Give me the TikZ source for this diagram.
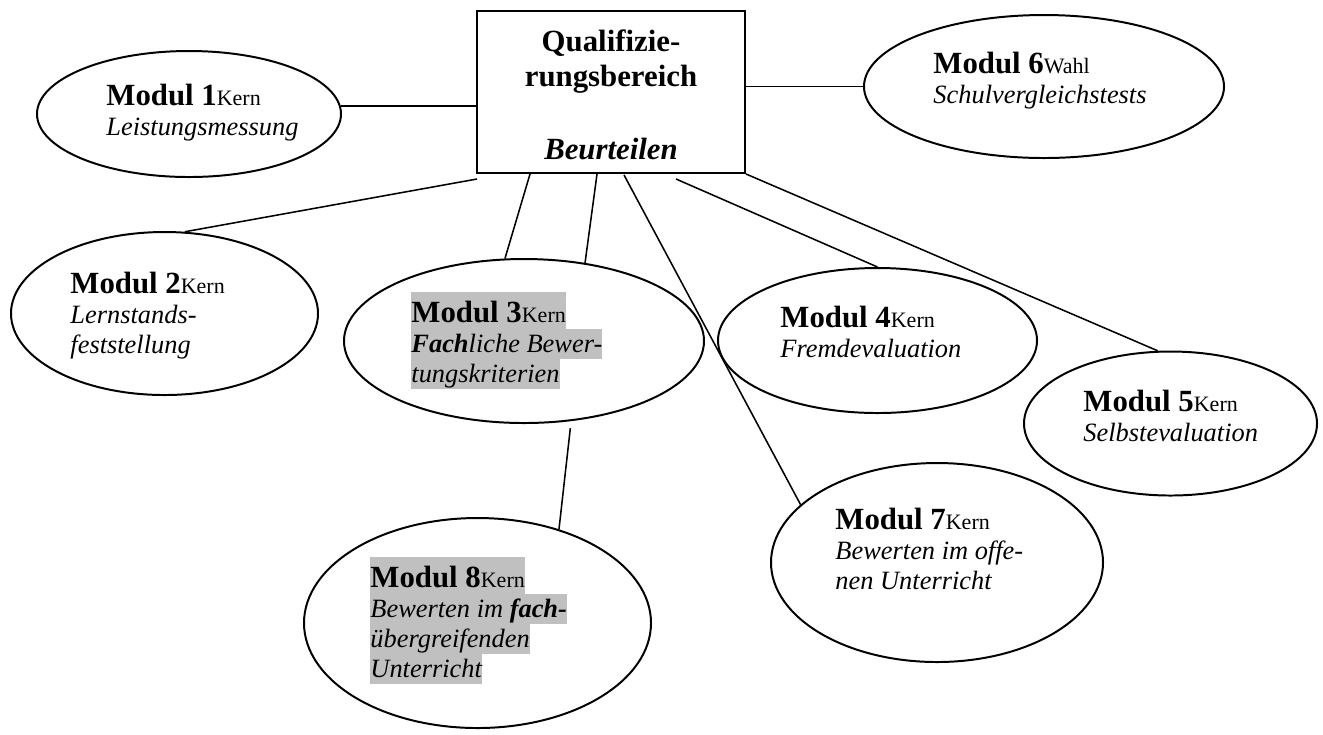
\documentclass[tikz,border=0pt]{standalone}
\usepackage{fontspec}
\setmainfont{Liberation Serif}
\usetikzlibrary{shapes.geometric,calc}
\definecolor{hlgray}{HTML}{C0C0C0}
\newcommand{\pxu}{0.4545pt}
\newcommand{\firststrut}{\rule[-3.2pt]{0pt}{16.8pt}}
\newcommand{\linestrut}{\rule[-3.2pt]{0pt}{13.6pt}}
\newcommand{\hlline}[1]{{\setlength{\fboxsep}{0pt}\colorbox{hlgray}{#1}}}
\newcommand{\modhead}[2]{{\fontsize{14}{13.6}\selectfont\bfseries\upshape Modul #1}{\fontsize{10}{12}\selectfont\upshape #2}}
\begin{document}
\begin{tikzpicture}[x=\pxu,y=-\pxu,
  ell/.style={draw, line width=0.9pt, ellipse, inner sep=0pt},
  modtext/.style={anchor=north west, inner sep=0pt, align=left, font=\fontsize{12}{13.6}\selectfont\itshape},
  conn/.style={line width=0.7pt},
  mainbox/.style={draw, line width=0.9pt, rectangle, inner sep=0pt, align=center,
    minimum width={268*\pxu}, minimum height={162*\pxu},
    font=\fontsize{14}{15.9}\selectfont\bfseries}]
\useasboundingbox (0,0) rectangle (1323,734);

% central box
\node[mainbox] (box) at (611,92) {\rule{0pt}{12.7pt}Qualifizie-\\rungsbereich\\[17.3pt]\textit{Beurteilen}};

% ellipses
\node[ell, minimum width={304*\pxu}, minimum height={126*\pxu}] (m1) at (189,114) {};
\node[ell, minimum width={307*\pxu}, minimum height={163*\pxu}] (m2) at (164.5,313.5) {};
\node[ell, minimum width={360*\pxu}, minimum height={164*\pxu}] (m3) at (524,341) {};
\node[ell, minimum width={319*\pxu}, minimum height={145*\pxu}] (m4) at (877.5,340.5) {};
\node[ell, minimum width={293*\pxu}, minimum height={144*\pxu}] (m5) at (1170.5,423.5) {};
\node[ell, minimum width={360*\pxu}, minimum height={143*\pxu}] (m6) at (1044,86.5) {};
\node[ell, minimum width={332*\pxu}, minimum height={199*\pxu}] (m7) at (937,562.5) {};
\node[ell, minimum width={347*\pxu}, minimum height={210*\pxu}] (m8) at (477.5,623) {};

% texts
\node[modtext] (t1) at (106,75) {\firststrut\modhead{1}{Kern}\\\linestrut Leistungsmessung};
\node[modtext] (t2) at (70,263) {\firststrut\modhead{2}{Kern}\\\linestrut Lernstands-\\\linestrut feststellung};
\node[modtext] (t3) at (411,292) {\hlline{\firststrut\modhead{3}{Kern}}\\\hlline{\linestrut\textbf{Fach}liche Bewer-}\\\hlline{\linestrut tungskriterien}};
\node[modtext] (t4) at (780,297) {\firststrut\modhead{4}{Kern}\\\linestrut Fremdevaluation};
\node[modtext] (t5) at (1083,381) {\firststrut\modhead{5}{Kern}\\\linestrut Selbstevaluation};
\node[modtext] (t6) at (933,43) {\firststrut\modhead{6}{Wahl}\\\linestrut Schulvergleichstests};
\node[modtext] (t7) at (835,499) {\firststrut\modhead{7}{Kern}\\\linestrut Bewerten im offe-\\\linestrut nen Unterricht};
\node[modtext] (t8) at (370,557) {\hlline{\firststrut\modhead{8}{Kern}}\\\hlline{\linestrut Bewerten im \textbf{fach-}}\\\hlline{\linestrut übergreifenden}\\\hlline{\linestrut Unterricht}};

% connectors
\draw[conn] (m1.3) -- (m1.3 -| box.west);
\draw[conn] (box.east |- m6.west) -- (m6.west);
\draw[conn] ($(box.south west)+(1,5)$) -- (m2.76);
\draw[conn] ($(box.south west)+(54,0)$) -- (m3.103);
\draw[conn] ($(box.south west)+(121,0)$) -- (m3.52);
\draw[conn] ($(box.south west)+(148,1)$) -- (m7.157);
\draw[conn] ($(box.south west)+(200,5)$) -- (m4.north);
\draw[conn] (box.south east) -- (m5.100);
\draw[conn] ($(m3.-60)+(0,7)$) -- (m8.49);
\end{tikzpicture}
\end{document}
